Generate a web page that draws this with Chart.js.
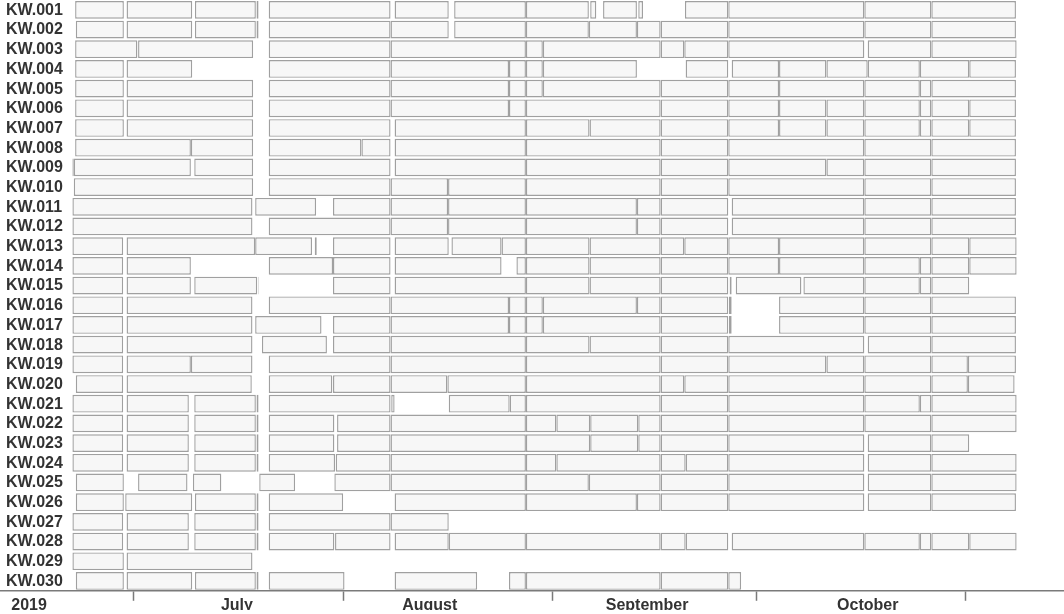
<!DOCTYPE html>
<html>
<head>
<meta charset="utf-8">
<script src="https://cdn.jsdelivr.net/npm/chart.js@4.4.1/dist/chart.umd.min.js"></script>
<style>
  html, body { margin: 0; padding: 0; background: #fff; }
  #wrap { width: 1064px; height: 614px; position: relative; }
</style>
</head>
<body>
<div id="wrap"><canvas id="chart"></canvas></div>
<script>
// ==== DATA ====
// all positions are days counted from 1 June 2019 (= day 0)
const rowLabels = [
  'KW.001','KW.002','KW.003','KW.004','KW.005','KW.006','KW.007','KW.008','KW.009','KW.010',
  'KW.011','KW.012','KW.013','KW.014','KW.015','KW.016','KW.017','KW.018','KW.019','KW.020',
  'KW.021','KW.022','KW.023','KW.024','KW.025','KW.026','KW.027','KW.028','KW.029','KW.030'
];

// one list of [start, end] segments per row
const segments = [
  [[21.4,28.6],[29.0,38.7],[39.1,48.1],[48.2,48.5],[50.0,68.0],[68.6,76.6],[77.4,88.0],[88.0,97.3],[97.5,98.4],[99.4,104.4],[104.6,105.3],[111.5,117.9],[117.9,138.0],[138.0,147.9],[147.9,160.4]],
  [[21.5,28.6],[29.0,38.7],[39.1,48.1],[48.2,48.5],[50.0,68.0],[68.0,76.6],[77.4,88.0],[88.0,97.3],[97.3,104.4],[104.4,107.9],[107.9,117.9],[117.9,138.0],[138.0,147.9],[147.9,160.4]],
  [[21.4,30.6],[30.7,47.7],[50.0,68.0],[68.0,88.0],[88.0,90.5],[90.5,107.9],[107.9,111.4],[111.4,117.9],[117.9,138.0],[138.5,147.9],[147.9,160.5]],
  [[21.4,28.6],[29.0,38.7],[50.0,68.0],[68.0,85.5],[85.5,88.0],[88.0,90.5],[90.5,104.4],[111.6,117.9],[118.4,125.4],[125.4,132.4],[132.4,138.5],[138.5,146.2],[146.2,153.5],[153.5,160.4]],
  [[21.4,28.6],[29.0,47.7],[50.0,68.0],[68.0,85.5],[85.5,88.0],[88.0,90.5],[90.5,107.9],[107.9,117.9],[117.9,125.4],[125.4,138.0],[138.0,146.2],[146.2,147.9],[147.9,160.4]],
  [[21.4,28.6],[29.0,47.7],[50.0,68.0],[68.0,85.5],[85.5,88.0],[88.0,107.9],[107.9,117.9],[117.9,125.4],[125.4,132.4],[132.4,138.0],[138.0,146.2],[146.2,147.9],[147.9,153.5],[153.5,160.4]],
  [[21.4,28.6],[29.0,47.7],[50.0,68.0],[68.6,88.0],[88.0,97.4],[97.4,107.9],[107.9,117.9],[117.9,125.4],[125.4,132.4],[132.4,138.0],[138.0,146.2],[146.2,147.9],[147.9,153.5],[153.5,160.4]],
  [[21.4,38.5],[38.5,47.7],[50.0,63.7],[63.7,68.0],[68.6,88.0],[88.0,107.9],[107.9,117.9],[117.9,138.0],[138.0,147.9],[147.9,160.4]],
  [[21.0,21.2],[21.2,38.5],[39.0,47.7],[50.0,68.0],[68.6,88.0],[88.0,107.9],[107.9,117.9],[117.9,132.4],[132.4,138.0],[138.0,147.9],[147.9,160.4]],
  [[21.2,47.7],[50.0,68.0],[68.0,76.5],[76.5,88.0],[88.0,107.9],[107.9,117.9],[117.9,138.0],[138.0,147.9],[147.9,160.4]],
  [[21.0,47.6],[48.0,57.0],[59.5,68.0],[68.0,76.5],[76.5,88.0],[88.0,104.4],[104.4,107.9],[107.9,117.9],[118.4,138.0],[138.0,147.9],[147.9,160.4]],
  [[21.0,47.6],[50.0,68.0],[68.0,76.5],[76.5,88.0],[88.0,104.4],[104.4,107.9],[107.9,117.9],[118.4,138.0],[138.0,147.9],[147.9,160.4]],
  [[21.0,28.5],[29.0,48.0],[48.0,56.4],[56.8,57.1],[59.5,68.0],[68.6,76.6],[77.0,84.4],[84.4,88.0],[88.0,97.4],[97.4,107.9],[107.9,111.4],[111.4,117.9],[117.9,125.4],[125.4,138.0],[138.0,147.9],[147.9,153.5],[153.5,160.5]],
  [[21.0,28.5],[29.0,38.5],[50.0,59.5],[59.5,68.0],[68.6,84.4],[86.6,88.0],[88.0,97.4],[97.4,107.9],[107.9,117.9],[117.9,125.4],[125.4,138.0],[138.0,146.2],[146.2,147.9],[147.9,153.5],[153.5,160.5]],
  [[21.0,28.5],[29.0,38.5],[39.0,48.3],[48.4,48.5],[59.5,68.0],[68.6,88.0],[88.0,97.4],[97.4,107.9],[107.9,117.9],[118.1,118.4],[119.0,128.7],[129.0,138.0],[138.0,146.2],[146.2,147.9],[147.9,153.5]],
  [[21.0,28.5],[29.0,47.6],[50.0,68.0],[68.0,85.5],[85.5,88.0],[88.0,90.5],[90.5,104.4],[104.4,107.9],[107.9,117.9],[118.0,118.4],[125.4,138.0],[138.0,147.9],[147.9,160.4]],
  [[21.0,28.5],[29.0,47.6],[48.0,57.8],[59.5,68.0],[68.0,85.5],[85.5,88.0],[88.0,90.5],[90.5,107.9],[107.9,117.9],[118.0,118.4],[125.4,138.0],[138.0,147.9],[147.9,160.4]],
  [[21.0,28.5],[29.0,47.6],[49.0,58.6],[59.5,68.0],[68.0,88.0],[88.0,97.4],[97.4,107.9],[107.9,117.9],[117.9,138.0],[138.5,147.9],[147.9,160.4]],
  [[21.0,28.5],[29.0,38.5],[38.5,47.6],[50.0,68.0],[68.0,88.0],[88.0,107.9],[107.9,117.9],[117.9,132.4],[132.4,138.0],[138.0,147.9],[147.9,153.3],[153.3,160.4]],
  [[21.5,28.5],[29.0,47.5],[50.0,59.4],[59.5,68.0],[68.0,76.4],[76.4,88.0],[88.0,107.9],[107.9,111.4],[111.4,117.9],[117.9,138.0],[138.0,147.9],[147.9,153.3],[153.3,160.2]],
  [[21.0,28.5],[29.0,38.2],[39.0,48.1],[48.2,48.5],[50.0,68.0],[68.1,68.6],[76.6,85.6],[85.6,88.0],[88.0,107.9],[107.9,117.9],[117.9,138.0],[138.0,146.2],[146.2,147.9],[147.9,160.5]],
  [[21.0,28.5],[29.0,38.2],[39.0,48.1],[48.2,48.5],[50.0,59.7],[60.1,68.0],[68.0,88.0],[88.0,92.5],[92.5,97.5],[97.5,104.6],[104.6,107.9],[107.9,117.9],[117.9,138.0],[138.0,147.9],[147.9,160.5]],
  [[21.0,28.5],[29.0,38.2],[39.0,48.1],[48.2,48.5],[50.0,59.7],[60.1,68.0],[68.0,88.0],[88.0,97.5],[97.5,104.6],[104.6,107.9],[107.9,117.9],[117.9,138.0],[138.5,147.9],[147.9,153.5]],
  [[21.0,28.5],[29.0,38.2],[39.0,48.1],[48.2,48.5],[50.0,59.8],[59.9,68.0],[68.0,88.0],[88.0,92.5],[92.5,107.9],[107.9,111.6],[111.6,117.9],[117.9,138.0],[138.5,147.9],[147.9,160.5]],
  [[21.5,28.6],[30.7,38.0],[38.8,43.0],[48.6,53.9],[59.7,68.0],[68.0,88.0],[88.0,97.3],[97.3,107.9],[107.9,117.9],[117.9,138.0],[138.5,147.9],[147.9,160.5]],
  [[21.5,28.6],[28.8,38.7],[39.1,48.1],[48.2,48.5],[50.0,61.0],[68.6,88.0],[88.0,104.4],[104.4,107.9],[107.9,117.9],[117.9,138.0],[138.5,147.9],[147.9,160.4]],
  [[21.0,28.5],[29.0,38.2],[39.0,48.1],[48.2,48.5],[50.0,68.0],[68.0,76.6]],
  [[21.0,28.5],[29.0,38.2],[39.0,48.1],[48.2,48.5],[50.0,59.7],[59.8,68.0],[68.6,76.6],[76.6,88.0],[88.0,107.9],[107.9,111.6],[111.6,117.9],[118.4,138.0],[138.0,146.2],[146.2,147.9],[147.9,153.5],[153.5,160.5]],
  [[21.0,28.6],[29.0,47.6]],
  [[21.5,28.6],[29.0,38.7],[39.1,48.1],[48.2,48.5],[50.0,61.2],[68.6,80.8],[85.5,88.0],[88.0,107.9],[107.9,117.9],[117.9,119.8]]
];

// axis: tick marks at month starts, labels placed inside the months
const monthStarts    = [30, 61, 92, 122, 153];        // 1 Jul .. 1 Nov
const monthLabels    = ['2019', 'July', 'August', 'September', 'October'];
const monthLabelDays = [14.6, 45.3, 73.8, 105.9, 138.5];
const DAY_MIN = 10.3;
const DAY_MAX = 167.5;

// ==== STYLE ====
const FONT      = '"Liberation Sans", Arial, sans-serif';
const TEXT_COL  = '#333333';
const AXIS_COL  = '#7a7a7a';
const BAR_FILL  = '#f7f7f7';
const BAR_LINE  = '#a0a0a0';

// ==== DATASETS ====
// one dataset per segment slot, bars overlap in the same row
const maxSeg = Math.max(...segments.map(s => s.length));
const datasets = [];
for (let k = 0; k < maxSeg; k++) {
  datasets.push({
    data: segments.map(s => s[k] || null),
    backgroundColor: BAR_FILL,
    borderColor: BAR_LINE,
    borderWidth: 1.4,
    borderSkipped: false,
    grouped: false,
    categoryPercentage: 0.9,
    barPercentage: 1
  });
}

// row names drawn inside the plot, at the left edge
const rowLabelPlugin = {
  id: 'rowLabels',
  afterDraw(chart) {
    const ctx = chart.ctx;
    const y = chart.scales.y;
    ctx.save();
    ctx.font = 'bold 16px ' + FONT;
    ctx.fillStyle = TEXT_COL;
    ctx.textBaseline = 'middle';
    ctx.textAlign = 'left';
    rowLabels.forEach((lab, i) => ctx.fillText(lab, 6, y.getPixelForValue(i) + 0.5));
    ctx.restore();
  }
};

new Chart(document.getElementById('chart'), {
  type: 'bar',
  data: { labels: rowLabels, datasets },
  options: {
    indexAxis: 'y',
    responsive: true,
    maintainAspectRatio: false,
    animation: false,
    layout: { padding: { top: 0, left: 0, right: 0, bottom: 4 } },
    plugins: { legend: { display: false }, tooltip: { enabled: false } },
    scales: {
      y: { display: false, offset: true },
      x: {
        type: 'linear',
        min: DAY_MIN,
        max: DAY_MAX,
        afterBuildTicks(scale) {
          const t = monthStarts.concat(monthLabelDays).sort((a, b) => a - b);
          scale.ticks = t.map(v => ({ value: v }));
        },
        grid: {
          drawOnChartArea: false,
          drawTicks: true,
          tickLength: 10,
          tickWidth: 1.5,
          tickColor: c => (c.tick && monthLabelDays.includes(c.tick.value)) ? 'rgba(0,0,0,0)' : AXIS_COL
        },
        border: { display: true, color: AXIS_COL, width: 1.5 },
        ticks: {
          autoSkip: false,
          maxRotation: 0,
          padding: -5,
          color: TEXT_COL,
          font: { family: FONT, size: 16, weight: 'bold' },
          callback: v => {
            const i = monthLabelDays.indexOf(v);
            return i < 0 ? '' : monthLabels[i];
          }
        }
      }
    }
  },
  plugins: [rowLabelPlugin]
});
</script>
</body>
</html>
